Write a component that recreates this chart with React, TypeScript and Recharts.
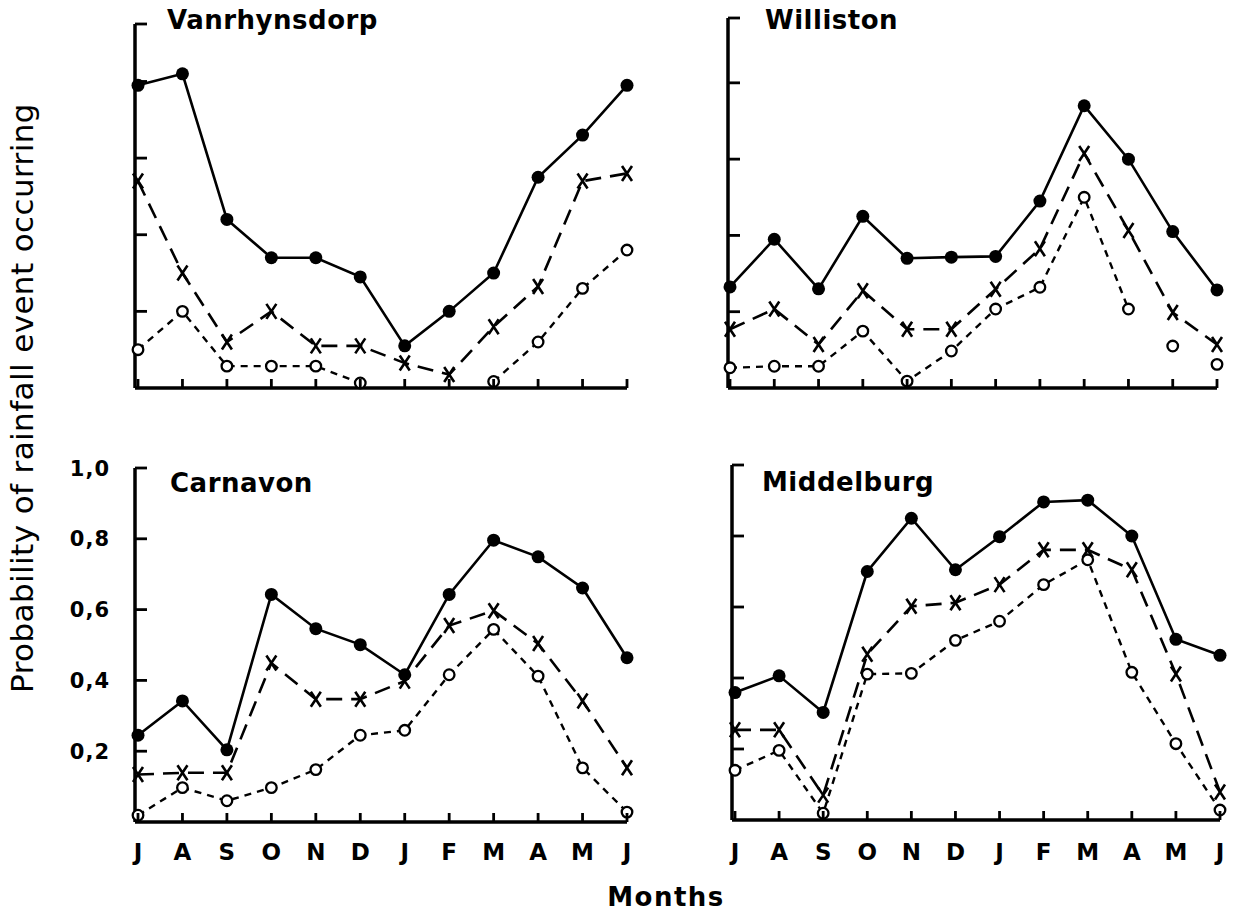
import { LineChart, Line, XAxis, YAxis } from "recharts";

// Months July -> June
const months = ["J", "A", "S", "O", "N", "D", "J", "F", "M", "A", "M", "J"];
const monthIndex = months.map((_, i) => i);

const yTicks = [0.2, 0.4, 0.6, 0.8, 1.0];
const yTickLabels = ["0,2", "0,4", "0,6", "0,8", "1,0"];

// Vanrhynsdorp
const vanSolid = [0.79, 0.82, 0.44, 0.34, 0.34, 0.29, 0.11, 0.2, 0.3, 0.55, 0.66, 0.79];
const vanCross = [0.54, 0.3, 0.12, 0.2, 0.11, 0.11, 0.065, 0.035, 0.16, 0.265, 0.54, 0.56];
const vanOpen = [0.1, 0.2, 0.057, 0.057, 0.057, 0.013, null, null, 0.017, 0.12, 0.26, 0.36];

// Williston
const wilSolid = [0.265, 0.39, 0.26, 0.45, 0.34, 0.343, 0.345, 0.49, 0.74, 0.6, 0.41, 0.257];
const wilCross = [0.154, 0.207, 0.114, 0.255, 0.154, 0.154, 0.259, 0.365, 0.615, 0.413, 0.198, 0.114];
const wilOpen = [0.053, 0.057, 0.057, 0.149, 0.018, 0.097, 0.207, 0.264, 0.5, 0.207, 0.11, 0.062];

// Carnavon
const carSolid = [0.245, 0.342, 0.204, 0.643, 0.546, 0.501, 0.416, 0.643, 0.796, 0.749, 0.661, 0.464];
const carCross = [0.134, 0.139, 0.139, 0.449, 0.347, 0.347, 0.398, 0.555, 0.597, 0.504, 0.342, 0.153];
const carOpen = [0.019, 0.097, 0.06, 0.097, 0.148, 0.245, 0.259, 0.416, 0.544, 0.412, 0.153, 0.028];

// Middelburg
const midSolid = [0.359, 0.406, 0.303, 0.7, 0.85, 0.705, 0.798, 0.896, 0.901, 0.8, 0.509, 0.464];
const midCross = [0.254, 0.254, 0.07, 0.467, 0.602, 0.612, 0.663, 0.761, 0.761, 0.705, 0.411, 0.079];
const midOpen = [0.14, 0.196, 0.019, 0.411, 0.413, 0.506, 0.56, 0.663, 0.733, 0.416, 0.215, 0.028];

const FONT = "'DejaVu Sans', sans-serif";

const renderFilled = (p: any) => {
    if (p.cx == null || p.cy == null || p.value == null) return <g key={`f-${p.index}`} />;
    return <circle key={`f-${p.index}`} cx={p.cx} cy={p.cy} r={6.5} fill="#000" />;
};

const renderCross = (p: any) => {
    if (p.cx == null || p.cy == null || p.value == null) return <g key={`x-${p.index}`} />;
    const { cx, cy } = p;
    return (
        <path
            key={`x-${p.index}`}
            d={`M${cx - 5},${cy - 7.5} L${cx + 5},${cy + 7.5} M${cx + 5},${cy - 7.5} L${cx - 5},${cy + 7.5}`}
            stroke="#000"
            strokeWidth={2.6}
            fill="none"
        />
    );
};

const renderOpen = (p: any) => {
    if (p.cx == null || p.cy == null || p.value == null) return <g key={`o-${p.index}`} />;
    return (
        <circle key={`o-${p.index}`} cx={p.cx} cy={p.cy} r={5.3} fill="#fff" stroke="#000" strokeWidth={2.3} />
    );
};

// Tick marks point into the plot; x/y given by recharts sit on the axis line
// because tickSize and tickMargin are both 0.
const makeXTick = (showLabel: boolean, baseline: number) => (p: any) => (
    <g key={`xt-${p.index}`}>
        <line x1={p.x} y1={p.y} x2={p.x} y2={p.y - 9} stroke="#000" strokeWidth={2.8} />
        {showLabel && (
            <text
                x={p.x}
                y={p.y + baseline}
                textAnchor="middle"
                fill="#000"
                fontSize={23}
                fontWeight={700}
                fontFamily={FONT}
            >
                {months[p.payload.value]}
            </text>
        )}
    </g>
);

const makeYTick = (showLabel: boolean) => (p: any) => {
    const k = yTicks.indexOf(p.payload.value);
    return (
        <g key={`yt-${p.index}`}>
            <line x1={p.x} y1={p.y} x2={p.x + 12} y2={p.y} stroke="#000" strokeWidth={2.8} />
            {showLabel && k >= 0 && (
                <text
                    x={p.x - 25}
                    y={p.y + 7.5}
                    textAnchor="end"
                    fill="#000"
                    fontSize={21}
                    fontWeight={700}
                    fontFamily={FONT}
                    letterSpacing={1}
                >
                    {yTickLabels[k]}
                </text>
            )}
        </g>
    );
};

interface PanelProps {
    left: number;
    top: number;
    width: number;
    height: number;
    yAxisWidth: number;
    marginTop: number;
    marginRight: number;
    xAxisHeight: number;
    padLeft: number;
    yMax: number;
    showYLabels: boolean;
    showMonths: boolean;
    monthBaseline: number;
    solid: (number | null)[];
    cross: (number | null)[];
    open: (number | null)[];
    openJoinedTo: number; // open circles after this index are not joined by a line
}

function Panel(p: PanelProps) {
    const data = months.map((m, i) => ({
        i,
        solid: p.solid[i],
        cross: p.cross[i],
        open: p.open[i],
        openLine: i <= p.openJoinedTo ? p.open[i] : null,
    }));

    const tickValues = p.yMax === 1 ? yTicks : [0.2, 0.4, 0.6, 0.8, p.yMax];

    return (
        <div style={{ position: "absolute", left: p.left, top: p.top }}>
            <LineChart
                width={p.width}
                height={p.height}
                data={data}
                margin={{ top: p.marginTop, right: p.marginRight, bottom: 0, left: 0 }}
            >
                <XAxis
                    dataKey="i"
                    type="number"
                    domain={[0, 11]}
                    ticks={monthIndex}
                    interval={0}
                    padding={{ left: p.padLeft, right: 0 }}
                    height={p.xAxisHeight}
                    axisLine={{ stroke: "#000", strokeWidth: 3.5 }}
                    tickLine={false}
                    tickSize={0}
                    tickMargin={0}
                    tick={makeXTick(p.showMonths, p.monthBaseline)}
                />
                <YAxis
                    type="number"
                    domain={[0, p.yMax]}
                    ticks={tickValues}
                    interval={0}
                    width={p.yAxisWidth}
                    axisLine={{ stroke: "#000", strokeWidth: 3.5 }}
                    tickLine={false}
                    tickSize={0}
                    tickMargin={0}
                    tick={makeYTick(p.showYLabels)}
                />
                {/* open circles: dotted line, then the circles themselves */}
                <Line
                    dataKey="openLine"
                    type="linear"
                    stroke="#000"
                    strokeWidth={2.4}
                    strokeDasharray="7 6"
                    dot={false}
                    activeDot={false}
                    isAnimationActive={false}
                />
                <Line
                    dataKey="open"
                    type="linear"
                    stroke="none"
                    dot={renderOpen}
                    activeDot={false}
                    isAnimationActive={false}
                />
                {/* crosses: long dashes */}
                <Line
                    dataKey="cross"
                    type="linear"
                    stroke="#000"
                    strokeWidth={2.6}
                    strokeDasharray="16 9"
                    dot={renderCross}
                    activeDot={false}
                    isAnimationActive={false}
                />
                {/* filled circles: solid line */}
                <Line
                    dataKey="solid"
                    type="linear"
                    stroke="#000"
                    strokeWidth={2.6}
                    dot={renderFilled}
                    activeDot={false}
                    isAnimationActive={false}
                />
            </LineChart>
        </div>
    );
}

export default function App() {
    return (
        <div style={styles.page}>
            <Panel
                left={0} top={0} width={640} height={420}
                yAxisWidth={135} marginTop={24} marginRight={13} xAxisHeight={32}
                padLeft={3} yMax={0.95} showYLabels={false} showMonths={false} monthBaseline={38}
                solid={vanSolid} cross={vanCross} open={vanOpen} openJoinedTo={11}
            />
            <Panel
                left={620} top={0} width={618} height={420}
                yAxisWidth={108} marginTop={18} marginRight={21} xAxisHeight={32}
                padLeft={2} yMax={0.97} showYLabels={false} showMonths={false} monthBaseline={38}
                solid={wilSolid} cross={wilCross} open={wilOpen} openJoinedTo={9}
            />
            <Panel
                left={0} top={440} width={640} height={440}
                yAxisWidth={135} marginTop={28} marginRight={13} xAxisHeight={58}
                padLeft={3} yMax={1} showYLabels={true} showMonths={true} monthBaseline={38}
                solid={carSolid} cross={carCross} open={carOpen} openJoinedTo={11}
            />
            <Panel
                left={620} top={440} width={618} height={440}
                yAxisWidth={112} marginTop={25} marginRight={18} xAxisHeight={60}
                padLeft={3} yMax={1} showYLabels={false} showMonths={true} monthBaseline={40}
                solid={midSolid} cross={midCross} open={midOpen} openJoinedTo={11}
            />

            <div style={{ ...styles.title, left: 167, top: 7 }}>Vanrhynsdorp</div>
            <div style={{ ...styles.title, left: 765, top: 7 }}>Williston</div>
            <div style={{ ...styles.title, left: 170, top: 470 }}>Carnavon</div>
            <div style={{ ...styles.title, left: 762, top: 469 }}>Middelburg</div>

            <div style={styles.yTitle}>Probability of rainfall event occurring</div>
            <div style={styles.xTitle}>Months</div>
        </div>
    );
}

const styles: Record<string, React.CSSProperties> = {
    page: {
        position: "absolute",
        left: 0,
        top: 0,
        width: 1238,
        height: 916,
        background: "#fff",
        fontFamily: FONT,
        overflow: "hidden",
    },
    title: {
        position: "absolute",
        fontFamily: FONT,
        fontWeight: 700,
        fontSize: 26,
        lineHeight: 1,
        letterSpacing: 0.5,
        color: "#000",
        whiteSpace: "nowrap",
    },
    yTitle: {
        position: "absolute",
        left: 22 - 350,
        top: 398 - 20,
        width: 700,
        height: 40,
        lineHeight: "40px",
        textAlign: "center",
        transform: "rotate(-90deg)",
        fontFamily: FONT,
        fontSize: 31,
        letterSpacing: 0.4,
        color: "#000",
        whiteSpace: "nowrap",
    },
    xTitle: {
        position: "absolute",
        left: 566,
        top: 884,
        width: 200,
        textAlign: "center",
        fontFamily: FONT,
        fontWeight: 700,
        fontSize: 26,
        lineHeight: 1,
        letterSpacing: 1.5,
        color: "#000",
        whiteSpace: "nowrap",
    },
};
